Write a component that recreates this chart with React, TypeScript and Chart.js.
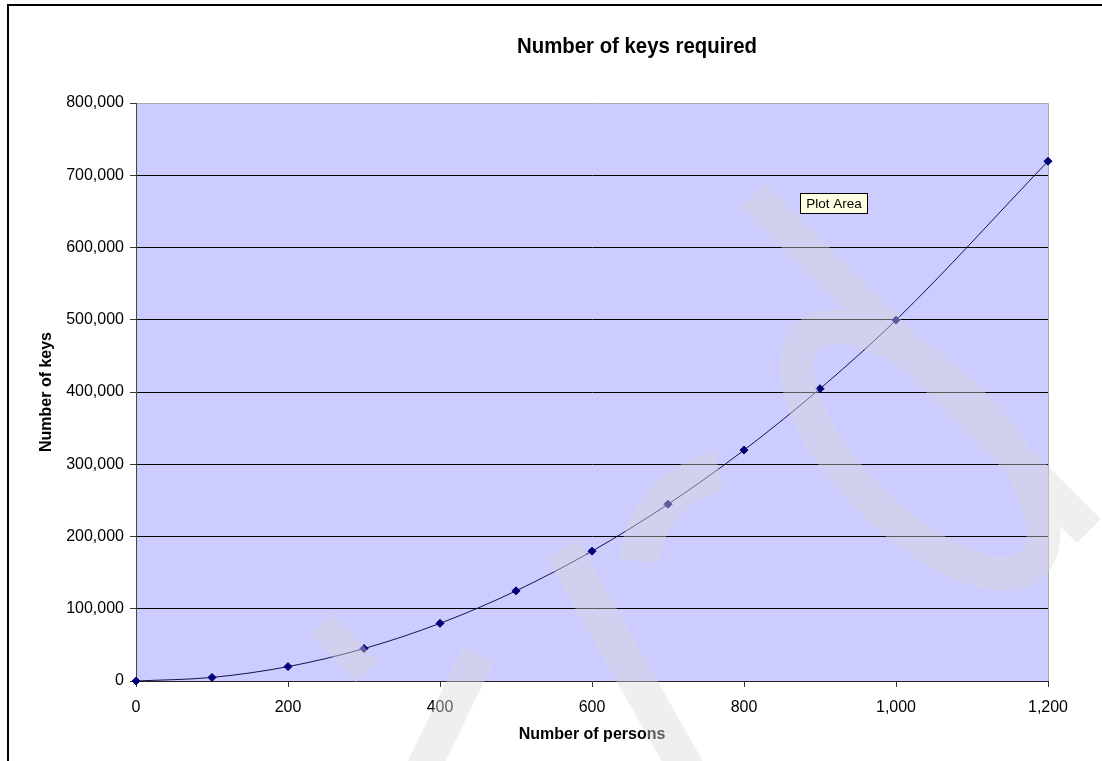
import React, { useEffect, useRef } from "react";
import { Chart, registerables } from "chart.js";

Chart.register(...registerables);

// ---- data ----
const persons = [0, 100, 200, 300, 400, 500, 600, 700, 800, 900, 1000, 1200];
const keys = [0, 4950, 19900, 44850, 79800, 124750, 179700, 244650, 319600, 404550, 499500, 719400];
const xTickValues = [0, 200, 400, 600, 800, 1000, 1200];
const yTickValues = [0, 100000, 200000, 300000, 400000, 500000, 600000, 700000, 800000];

const TITLE = "Number of keys required";
const X_TITLE = "Number of persons";
const Y_TITLE = "Number of keys";
const NOTE = "Plot Area";

const FONT = "'Liberation Sans', Arial, sans-serif";

const fmt = (v: number | string) => Number(v).toLocaleString("en-US");

const decor = {
  id: "decor",
  beforeDraw(chart: any) {
    const { ctx, chartArea: a, width, height } = chart;
    ctx.save();
    ctx.fillStyle = "#ffffff";
    ctx.fillRect(0, 0, width, height);
    // outer frame (top + left)
    ctx.fillStyle = "#000";
    ctx.fillRect(7, 4, width - 7, 2);
    ctx.fillRect(7, 4, 2, height - 4);
    // plot area
    ctx.fillStyle = "#CCCCFF";
    ctx.fillRect(a.left, a.top, a.right - a.left, a.bottom - a.top);
    ctx.strokeStyle = "#A8A8B0";
    ctx.lineWidth = 1;
    ctx.beginPath();
    ctx.moveTo(a.left, a.top + 0.5);
    ctx.lineTo(a.right + 0.5, a.top + 0.5);
    ctx.lineTo(a.right + 0.5, a.bottom);
    ctx.stroke();
    // chart title
    ctx.fillStyle = "#000";
    ctx.font = `bold 22px ${FONT}`;
    ctx.textAlign = "center";
    ctx.textBaseline = "alphabetic";
    ctx.fillText(TITLE, 637, 53, 240);
    ctx.restore();
  },
  afterDraw(chart: any) {
    const { ctx, width, height } = chart;
    // faint watermark
    const off = document.createElement("canvas");
    off.width = width;
    off.height = height;
    const o = off.getContext("2d")!;
    o.strokeStyle = "rgb(218,218,218)";
    o.fillStyle = "rgb(218,218,218)";
    o.lineCap = "butt";
    const band = (x1: number, y1: number, x2: number, y2: number, w: number) => {
      o.lineWidth = w;
      o.beginPath();
      o.moveTo(x1, y1);
      o.lineTo(x2, y2);
      o.stroke();
    };
    band(322, 623, 367, 672, 30);
    band(420, 775, 478, 655, 34);
    band(562, 548, 690, 775, 36);
    band(753, 195, 1089, 531, 34);
    o.lineWidth = 34;
    o.beginPath();
    o.ellipse(920, 450, 160, 70, Math.PI / 4, 0, Math.PI * 2);
    o.stroke();
    o.lineWidth = 40;
    o.beginPath();
    o.arc(740, 570, 101, (185 * Math.PI) / 180, (258 * Math.PI) / 180);
    o.stroke();
    ctx.save();
    ctx.globalAlpha = 0.42;
    ctx.drawImage(off, 0, 0);
    ctx.restore();

    // "Plot Area" hint box
    ctx.save();
    ctx.fillStyle = "#FFFFE1";
    ctx.fillRect(800, 193, 68, 21);
    ctx.strokeStyle = "#000";
    ctx.lineWidth = 1;
    ctx.strokeRect(800.5, 193.5, 67, 20);
    ctx.fillStyle = "#000";
    ctx.font = `13.5px ${FONT}`;
    ctx.textAlign = "center";
    ctx.textBaseline = "middle";
    ctx.fillText(NOTE, 834, 204);
    ctx.restore();
  },
};

export default function App() {
  const ref = useRef<HTMLCanvasElement>(null);

  useEffect(() => {
    const canvas = ref.current;
    if (!canvas) return;
    const chart = new Chart(canvas, {
      type: "line",
      data: {
        datasets: [
          {
            label: Y_TITLE,
            data: persons.map((p, i) => ({ x: p, y: keys[i] })),
            borderColor: "#14144a",
            borderWidth: 1,
            pointStyle: "rectRot",
            pointRadius: 4,
            pointBackgroundColor: "#000080",
            pointBorderColor: "#000060",
            pointBorderWidth: 1,
            cubicInterpolationMode: "monotone",
            clip: false,
          } as any,
        ],
      },
      options: {
        responsive: false,
        animation: false,
        devicePixelRatio: 1,
        layout: { padding: { top: 103, right: 54, left: 0, bottom: 0 } },
        plugins: {
          legend: { display: false },
          tooltip: { enabled: false },
          title: { display: false },
        },
        scales: {
          x: {
            type: "linear",
            min: 0,
            max: 1200,
            afterBuildTicks: (s: any) => {
              s.ticks = xTickValues.map((v) => ({ value: v }));
            },
            afterFit: (s: any) => {
              s.height = 80;
            },
            ticks: {
              font: { family: FONT, size: 16 },
              color: "#000",
              padding: 11,
              maxRotation: 0,
              autoSkip: false,
              callback: (v: any) => fmt(v),
            },
            grid: { drawOnChartArea: false, drawTicks: true, tickLength: 6, tickColor: "#333" },
            border: { color: "#222", width: 1 },
            title: {
              display: true,
              text: X_TITLE,
              color: "#000",
              font: { family: FONT, size: 16, weight: "bold" },
              padding: { top: 0, bottom: 16.4 },
            },
          },
          y: {
            type: "linear",
            min: 0,
            max: 800000,
            afterBuildTicks: (s: any) => {
              s.ticks = yTickValues.map((v) => ({ value: v }));
            },
            afterFit: (s: any) => {
              s.width = 136;
            },
            ticks: {
              font: { family: FONT, size: 16 },
              color: "#000",
              padding: 6,
              autoSkip: false,
              callback: (v: any) => fmt(v),
            },
            grid: {
              color: (c: any) =>
                c.tick && c.tick.value > 0 && c.tick.value < 800000 ? "#000" : "rgba(0,0,0,0)",
              lineWidth: 1,
              tickLength: 6,
              tickColor: "#333",
            },
            border: { color: "#444", width: 1 },
            title: {
              display: true,
              text: Y_TITLE,
              color: "#000",
              font: { family: FONT, size: 16, weight: "bold" },
              padding: { top: 37.4, bottom: 0 },
            },
          },
        },
      } as any,
      plugins: [decor],
    });
    return () => chart.destroy();
  }, []);

  return (
    <div style={{ position: "fixed", left: 0, top: 0, width: 1102, height: 761, background: "#fff" }}>
      <canvas ref={ref} width={1102} height={761} style={{ display: "block", width: 1102, height: 761 }} />
    </div>
  );
}
